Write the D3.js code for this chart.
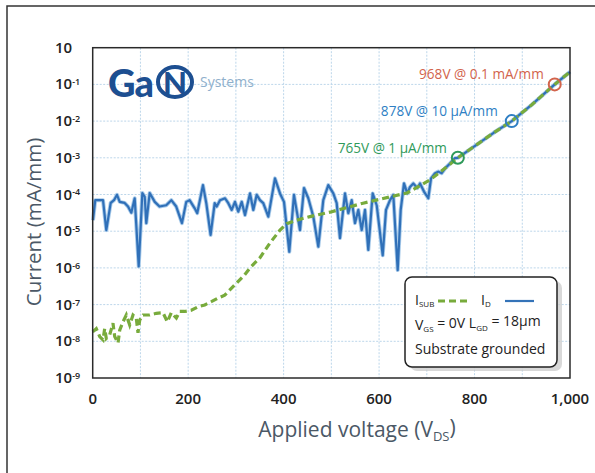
<!DOCTYPE html>
<html>
<head>
<meta charset="utf-8">
<script src="https://cdn.jsdelivr.net/npm/d3@7"></script>
<style>
body { margin: 0; background: #fff; }
svg { display: block; font-family: "Open Sans", sans-serif; }
</style>
</head>
<body>
<svg id="chart" width="595" height="473"></svg>
<script>
// tick values / labels
var voltTicks = [0, 200, 400, 600, 800, 1000];
var voltTickLabels = ["0", "200", "400", "600", "800", "1,000"];
var voltGrid = [100, 200, 300, 400, 500, 600, 700, 800, 900];
var currentExps = [0, -1, -2, -3, -4, -5, -6, -7, -8, -9];
var currentSups = ["", "-1", "-2", "-3", "-4", "-5", "-6", "-7", "-8", "-9"];

// I_D (drain current, mA/mm)
var idV = [0.6, 5.4, 21.6, 28.5, 37.7, 44.6, 50.9, 56.6, 67, 74, 80.9, 88, 96.4, 104, 109, 112.3,
  119.4, 130, 140, 154, 164.7, 175, 187, 196, 203, 213.7, 219, 231, 238, 247, 255.6, 259.8,
  266.7, 277.2, 284.1, 291.2, 298.1, 305, 312.2, 319.1, 329.6, 336.5, 343.6, 350.5, 357.4,
  367.9, 381.9, 392.4, 400.8, 411.9, 421.7, 434.3, 442.7, 451.7, 462.2, 472.7, 483.1, 493.6,
  504.1, 511.2, 518.1, 528.6, 535.5, 542.6, 549.5, 556.5, 563.6, 570.5, 577.4, 586.6, 595,
  607.6, 614.5, 622.9, 629.8, 639, 645.3, 652.2, 659.1, 664.8, 671.7, 680.1, 685.8, 694.1,
  703.1, 708.8, 717.2, 724.1, 731.2, 738.1, 748.6, 759.1, 765, 807, 840, 878, 920, 968, 1000];
var idI = [2.0e-5, 7e-5, 7e-5, 1.07e-5, 5.9e-5, 7e-5, 9.8e-5, 6.3e-5, 5.9e-5, 4.7e-5, 3.2e-5, 7.9e-5,
  1.1e-6, 1.1e-4, 8.7e-5, 1.66e-5, 1.1e-4, 6.3e-5, 4.7e-5, 5.1e-5, 7e-5, 4.7e-5, 1.66e-5, 6.3e-5,
  7e-5, 4.2e-5, 3.1e-5, 1.8e-4, 5.8e-5, 7.9e-6, 5.8e-5, 4.7e-5, 7e-5, 7.9e-5, 5.8e-5, 3.8e-5,
  6.3e-5, 3.4e-5, 6.3e-5, 2.75e-5, 1.07e-4, 3.8e-5, 9.8e-5, 7e-5, 5.8e-5, 2.5e-5, 2.75e-4,
  1.07e-4, 6.3e-5, 2.75e-6, 9.8e-5, 1.07e-5, 1.5e-4, 7.9e-5, 2.5e-5, 3.8e-6, 7e-5, 1.8e-4,
  1.07e-4, 5.8e-5, 6.5e-6, 1.07e-4, 3.1e-5, 7e-5, 1.66e-5, 3.8e-5, 1.07e-5, 3.8e-5, 3.1e-6,
  1.07e-4, 5.1e-5, 2.2e-6, 3.8e-5, 7e-5, 9.8e-5, 8.7e-7, 3.8e-5, 2.0e-4, 1.07e-4, 1.6e-4,
  2.0e-4, 1.5e-4, 2.0e-4, 1.2e-4, 7.9e-5, 2.75e-4, 3.8e-4, 4.2e-4, 3.8e-4, 5.1e-4, 7e-4,
  9.8e-4, 1e-3, 2.4e-3, 4.8e-3, 1e-2, 2.8e-2, 1e-1, 0.22];

// I_SUB (substrate current, mA/mm)
var isubV = [0, 7.5, 14.7, 21.6, 25.1, 28.5, 35.6, 42.5, 46.1, 53, 56.6, 63.5, 70.4, 77.5, 84.4,
  91.3, 94.9, 98.5, 105.4, 119.4, 133.2, 147.3, 156.3, 164.7, 175.2, 182.3, 192.7, 206.6, 220.6,
  234.7, 248.5, 262.5, 276.6, 290.4, 304.4, 318.5, 329.6, 350.5, 371.5, 392.4, 406.5, 427.4,
  455.3, 497.2, 566.3, 658.5, 706.7, 733.9, 765, 807, 840, 878, 920, 968, 1000];
var isubI = [1.8e-8, 2.2e-8, 1.35e-8, 1.1e-8, 2.2e-8, 1.2e-8, 1.5e-8, 3.1e-8, 1.35e-8, 9e-9, 2.0e-8,
  3.4e-8, 5.2e-8, 2.8e-8, 5.2e-8, 4.3e-8, 1.7e-8, 3.8e-8, 5.2e-8, 5.2e-8, 5.8e-8, 6e-8, 3.4e-8,
  6e-8, 4.3e-8, 6.5e-8, 6.5e-8, 7e-8, 8.7e-8, 9.8e-8, 1.2e-7, 1.5e-7, 1.8e-7, 2.75e-7, 4.2e-7,
  6.5e-7, 1e-6, 1.9e-6, 4.8e-6, 1.07e-5, 1.6e-5, 2.0e-5, 2.5e-5, 3.3e-5, 5.8e-5, 1.1e-4,
  2.5e-4, 4.7e-4, 1e-3, 2.4e-3, 4.8e-3, 1e-2, 2.8e-2, 1e-1, 0.22];

// breakdown markers
var markV = [765, 878, 968];
var markI = [1e-3, 1e-2, 1e-1];
var markLabels = ["765V @ 1 \u00b5A/mm", "878V @ 10 \u00b5A/mm", "968V @ 0.1 mA/mm"];
var markColors = ["#2f9a5a", "#2f7fc4", "#d2644c"];

var svg = d3.select("#chart");

// outer frame (only left & top visible)
svg.append("path")
    .attr("d", "M7,473 V6 H595")
    .attr("fill", "none")
    .attr("stroke", "#333")
    .attr("stroke-width", 1.5);

var margin = {top: 47.7, left: 92.7, right: 570, bottom: 378};

var x = d3.scaleLinear().domain([0, 1000]).range([margin.left, margin.right]);
var y = d3.scaleLog().domain([1e-9, 1]).range([margin.bottom, margin.top]);

// grid
var grid = svg.append("g").attr("stroke", "#bcd6ea").attr("stroke-width", 1).attr("stroke-dasharray", "2,1.5");
grid.selectAll(".gv").data(voltGrid).enter().append("line")
    .attr("x1", function(d) { return x(d); }).attr("x2", function(d) { return x(d); })
    .attr("y1", margin.top).attr("y2", margin.bottom);
grid.selectAll(".gh").data(currentExps.slice(1, 9)).enter().append("line")
    .attr("x1", margin.left).attr("x2", margin.right)
    .attr("y1", function(d) { return y(Math.pow(10, d)); })
    .attr("y2", function(d) { return y(Math.pow(10, d)); });

// curves
var idData = idV.map(function(v, i) { return {v: v, c: idI[i]}; });
var isubData = isubV.map(function(v, i) { return {v: v, c: isubI[i]}; });

var line = d3.line()
    .x(function(d) { return x(d.v); })
    .y(function(d) { return y(d.c); });

svg.append("path")
    .datum(idData)
    .attr("d", line)
    .attr("fill", "none")
    .attr("stroke", "#a9cbea")
    .attr("stroke-width", 4)
    .attr("stroke-linejoin", "round");

svg.append("path")
    .datum(idData)
    .attr("d", line)
    .attr("fill", "none")
    .attr("stroke", "#3070b8")
    .attr("stroke-width", 2.2)
    .attr("stroke-linejoin", "round");

svg.append("path")
    .datum(isubData)
    .attr("d", line)
    .attr("fill", "none")
    .attr("stroke", "#78ab3c")
    .attr("stroke-width", 3.2)
    .attr("stroke-dasharray", "7,4");

// markers
svg.selectAll(".mark").data(markV).enter().append("circle")
    .attr("cx", function(d) { return x(d); })
    .attr("cy", function(d, i) { return y(markI[i]); })
    .attr("r", 6)
    .attr("fill", "none")
    .attr("stroke", function(d, i) { return markColors[i]; })
    .attr("stroke-width", 2);

svg.selectAll(".mlab").data(markV).enter().append("text")
    .attr("x", function(d, i) { return x(d) - (i == 1 ? 14 : 11); })
    .attr("y", function(d, i) { return y(markI[i]) - 5; })
    .attr("text-anchor", "end")
    .attr("font-size", "13.6px")
    .attr("fill", function(d, i) { return markColors[i]; })
    .text(function(d, i) { return markLabels[i]; });

// plot frame
svg.append("rect")
    .attr("x", margin.left).attr("y", margin.top)
    .attr("width", margin.right - margin.left)
    .attr("height", margin.bottom - margin.top)
    .attr("fill", "none")
    .attr("stroke", "#2a2a2a")
    .attr("stroke-width", 1.5);

// y tick labels
var yl = svg.selectAll(".ylab").data(currentExps).enter().append("text")
    .attr("x", 55)
    .attr("y", function(d) { return y(Math.pow(10, d)) + 5; })
    .attr("font-size", "15px")
    .attr("font-weight", "600")
    .attr("fill", "#222");
yl.append("tspan").text("10");
yl.append("tspan")
    .attr("dy", "-0.45em")
    .attr("font-size", "9px")
    .text(function(d, i) { return currentSups[i]; });

// x tick labels
svg.selectAll(".xlab").data(voltTicks).enter().append("text")
    .attr("x", function(d) { return x(d); })
    .attr("y", 404)
    .attr("text-anchor", "middle")
    .attr("font-size", "15px")
    .attr("font-weight", "600")
    .attr("fill", "#222")
    .text(function(d, i) { return voltTickLabels[i]; });

// axis titles
var xt = svg.append("text")
    .attr("x", 357).attr("y", 437)
    .attr("text-anchor", "middle")
    .attr("font-size", "21px")
    .attr("fill", "#4b5866");
xt.append("tspan").text("Applied voltage (V");
xt.append("tspan").attr("dy", "0.3em").attr("font-size", "13px").text("DS");
xt.append("tspan").attr("dy", "-0.3em").text(")");

svg.append("text")
    .attr("transform", "translate(41,222) rotate(-90)")
    .attr("text-anchor", "middle")
    .attr("font-size", "20.5px")
    .attr("fill", "#4b5866")
    .text("Current (mA/mm)");

// logo
var logo = svg.append("g").attr("fill", "#1d4f91");
logo.append("text").attr("x", 108).attr("y", 97)
    .attr("font-size", "38px").attr("font-weight", "900").attr("font-family", "Lato, sans-serif")
    .attr("letter-spacing", "-1px")
    .text("Ga");
logo.append("ellipse").attr("cx", 175).attr("cy", 82).attr("rx", 17).attr("ry", 15)
    .attr("fill", "none").attr("stroke", "#1d4f91").attr("stroke-width", 4);
logo.append("text").attr("x", 175).attr("y", 94).attr("text-anchor", "middle")
    .attr("font-size", "31px").attr("font-weight", "900").attr("font-family", "Lato, sans-serif")
    .text("N");
svg.append("text").attr("x", 200).attr("y", 87)
    .attr("font-size", "14px").attr("fill", "#8fb0cc")
    .text("Systems");

// legend
var lg = svg.append("g");
lg.append("rect").attr("x", 410).attr("y", 281).attr("width", 152).attr("height", 90).attr("rx", 7)
    .attr("fill", "#c8c8c8").attr("opacity", 0.7);
lg.append("rect").attr("x", 405).attr("y", 277).attr("width", 152).attr("height", 90).attr("rx", 7)
    .attr("fill", "#fff").attr("stroke", "#222").attr("stroke-width", 1.5);

var t1 = lg.append("text").attr("x", 415).attr("y", 305).attr("font-size", "14px").attr("fill", "#222");
t1.append("tspan").text("I");
t1.append("tspan").attr("dy", "0.3em").attr("font-size", "8px").text("SUB");
lg.append("line").attr("x1", 438).attr("x2", 469).attr("y1", 301).attr("y2", 301)
    .attr("stroke", "#78ab3c").attr("stroke-width", 3).attr("stroke-dasharray", "7,4");
var t2 = lg.append("text").attr("x", 481).attr("y", 305).attr("font-size", "14px").attr("fill", "#222");
t2.append("tspan").text("I");
t2.append("tspan").attr("dy", "0.3em").attr("font-size", "8px").text("D");
lg.append("line").attr("x1", 505).attr("x2", 534).attr("y1", 301).attr("y2", 301)
    .attr("stroke", "#3473b8").attr("stroke-width", 2.2);

var t3 = lg.append("text").attr("x", 415).attr("y", 330).attr("font-size", "14px").attr("fill", "#222");
t3.append("tspan").text("V");
t3.append("tspan").attr("dy", "0.3em").attr("font-size", "8px").text("GS");
t3.append("tspan").attr("dy", "-0.3em").text(" = 0V  L");
t3.append("tspan").attr("dy", "0.3em").attr("font-size", "8px").text("GD");
t3.append("tspan").attr("dy", "-0.3em").text(" = 18\u00b5m");

lg.append("text").attr("x", 415).attr("y", 354).attr("font-size", "14px").attr("fill", "#222")
    .text("Substrate grounded");
</script>
</body>
</html>
